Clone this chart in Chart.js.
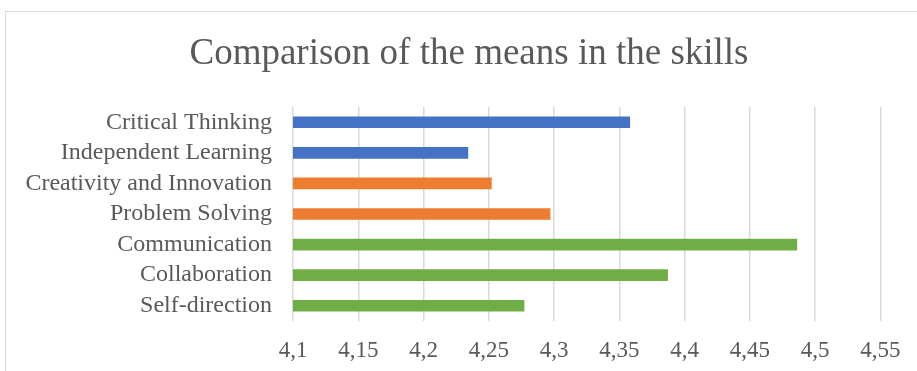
<!DOCTYPE html>
<html>
<head>
<meta charset="utf-8">
<script src="https://cdn.jsdelivr.net/npm/chart.js@4/dist/chart.umd.min.js"></script>
<style>
body { margin: 0; background: #fff; }
#wrap { position: relative; width: 917px; height: 371px; overflow: hidden; }
#frame { position: absolute; left: 5px; top: 11px; width: 1000px; height: 1000px; border: 1px solid #d9d9d9; }
#skillsChart { position: absolute; left: 0; top: 0; }
</style>
</head>
<body>
<div id="wrap">
  <div id="frame"></div>
  <canvas id="skillsChart" width="917" height="371"></canvas>
</div>
<script>
var skills = ['Critical Thinking', 'Independent Learning', 'Creativity and Innovation',
              'Problem Solving', 'Communication', 'Collaboration', 'Self-direction'];
var means = [4.358, 4.234, 4.252, 4.297, 4.486, 4.387, 4.277];
var xTicks = [4.1, 4.15, 4.2, 4.25, 4.3, 4.35, 4.4, 4.45, 4.5, 4.55];
var xTickLabels = ['4,1', '4,15', '4,2', '4,25', '4,3', '4,35', '4,4', '4,45', '4,5', '4,55'];

var barColors = ['#4472C4', '#4472C4', '#ED7D31', '#ED7D31', '#70AD47', '#70AD47', '#70AD47'];
var serif = "'Liberation Serif', 'Times New Roman', serif";
var grey = '#595959';

// the original title sits a bit right of the canvas centre
var titleShift = {
    id: 'titleShift',
    afterLayout: function (chart) {
        chart.titleBlock.left += 57;
    }
};

new Chart('skillsChart', {
    type: 'bar',
    data: {
        labels: skills,
        datasets: [{
            label: 'Mean',
            data: means,
            backgroundColor: barColors,
            barThickness: 11
        }]
    },
    options: {
        indexAxis: 'y',
        responsive: false,
        animation: false,
        devicePixelRatio: 1,
        layout: { padding: { left: 0, right: 36, top: 0, bottom: 0 } },
        plugins: {
            legend: { display: false },
            tooltip: { enabled: false },
            title: {
                display: true,
                text: 'Comparison of the means in the skills',
                color: grey,
                font: { family: serif, size: 37, weight: 'normal', lineHeight: 1.2 },
                padding: { top: 32, bottom: 30.6 }
            }
        },
        scales: {
            x: {
                min: 4.1,
                max: 4.55,
                afterBuildTicks: function (scale) {
                    scale.ticks = xTicks.map(function (v) { return { value: v }; });
                },
                afterFit: function (scale) { scale.height = 50; },
                grid: { color: '#d9d9d9', lineWidth: 1.5, drawTicks: false },
                border: { display: false },
                ticks: {
                    color: grey,
                    padding: 16.5,
                    maxRotation: 0,
                    font: { family: serif, size: 23 },
                    callback: function (value, index) { return xTickLabels[index]; }
                }
            },
            y: {
                afterFit: function (scale) { scale.width = 293; },
                grid: { display: false, drawTicks: false },
                border: { display: false },
                ticks: {
                    color: grey,
                    padding: 21,
                    autoSkip: false,
                    font: { family: serif, size: 24 }
                }
            }
        }
    },
    plugins: [titleShift]
});
</script>
</body>
</html>
